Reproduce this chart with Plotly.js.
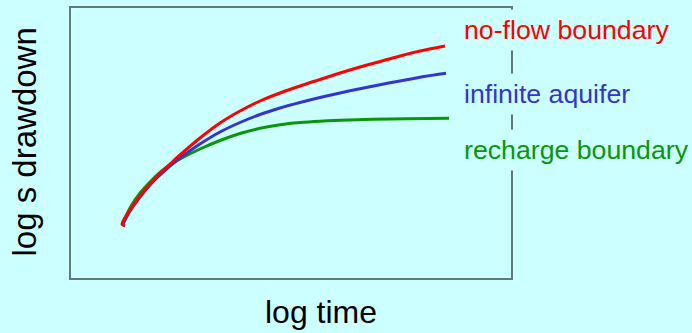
<!DOCTYPE html>
<html><head><meta charset="utf-8">
<script src="https://cdn.plot.ly/plotly-3.0.1.min.js"></script>
<style>html,body{margin:0;padding:0;background:#ccffff;}</style>
</head><body>
<div id="chart" style="width:692px;height:333px;"></div>
<script>
// log time / log drawdown values (arbitrary log units)
const noFlowX = [0.54,0.51,0.59,0.69,0.79,0.89,0.99,1.09,1.29,1.49,1.69,1.89,2.09,2.29,2.49,2.69,2.89,3.09,3.29,3.49,3.74];
const noFlowY = [0.52,0.54,0.68,0.82,0.94,1.05,1.14,1.23,1.40,1.55,1.67,1.77,1.85,1.92,1.985,2.05,2.11,2.165,2.22,2.27,2.32];
const infiniteX = [0.51,0.59,0.69,0.79,0.89,0.99,1.09,1.29,1.49,1.69,1.89,2.09,2.29,2.49,2.69,2.89,3.09,3.29,3.49,3.75];
const infiniteY = [0.52,0.67,0.81,0.93,1.03,1.12,1.20,1.34,1.46,1.555,1.635,1.70,1.755,1.805,1.85,1.893,1.933,1.97,2.008,2.047];
const rechargeX = [0.51,0.59,0.69,0.79,0.89,0.99,1.09,1.29,1.49,1.69,1.89,2.09,2.29,2.49,2.69,3.02,3.36,3.78];
const rechargeY = [0.53,0.70,0.85,0.96,1.055,1.13,1.19,1.29,1.375,1.445,1.497,1.532,1.554,1.568,1.577,1.587,1.593,1.597];
const seriesNames = ['recharge boundary','infinite aquifer','no-flow boundary'];
const xTitle = 'log time';
const yTitle = 'log s drawdown';

const FONT = 'Liberation Sans, Arial, sans-serif';
const BG = '#ccffff';
const colors = {recharge:'#0a960a', infinite:'#3535cc', noflow:'#ff0000'};

const lineStyle = (c) => ({color:c, width:3, shape:'spline', smoothing:0.8});
const traces = [
  {x: rechargeX, y: rechargeY, name: seriesNames[0], mode:'lines', line:lineStyle(colors.recharge)},
  {x: infiniteX, y: infiniteY, name: seriesNames[1], mode:'lines', line:lineStyle(colors.infinite)},
  {x: noFlowX, y: noFlowY, name: seriesNames[2], mode:'lines', line:lineStyle(colors.noflow)}
];

const axisCommon = {showgrid:false, zeroline:false, showticklabels:false, ticks:'',
  showline:true, mirror:true, linecolor:'#607a7a', linewidth:2, fixedrange:true};

function lab(text, yPaper, color){
  return {xref:'paper', yref:'paper', x:0.88, y:yPaper, xanchor:'left', yanchor:'middle',
    text:text, showarrow:false, bgcolor:BG, borderpad:5,
    font:{family:FONT, size:26.7, color:color}};
}

const layout = {
  width:692, height:333,
  paper_bgcolor:BG, plot_bgcolor:BG,
  margin:{l:71, r:181, t:8, b:55},
  showlegend:false,
  xaxis: Object.assign({range:[0,4.4]}, axisCommon),
  yaxis: Object.assign({range:[0,2.7]}, axisCommon),
  annotations:[
    lab(seriesNames[2], (278-30)/270, colors.noflow),
    lab(seriesNames[1], (278-94)/270, colors.infinite),
    lab(seriesNames[0], (278-150)/270, colors.recharge),
    {xref:'paper', yref:'paper', x:(321-71)/440, y:(278-312)/270, xanchor:'center', yanchor:'middle',
      text:xTitle, showarrow:false, font:{family:FONT, size:32, color:'#000'}},
    {xref:'paper', yref:'paper', x:(24-71)/440, y:(278-142.5)/270, xanchor:'center', yanchor:'middle',
      text:yTitle, textangle:-90, showarrow:false, font:{family:FONT, size:33, color:'#000'}}
  ]
};

Plotly.newPlot('chart', traces, layout, {displayModeBar:false, staticPlot:true});
</script>
</body></html>
